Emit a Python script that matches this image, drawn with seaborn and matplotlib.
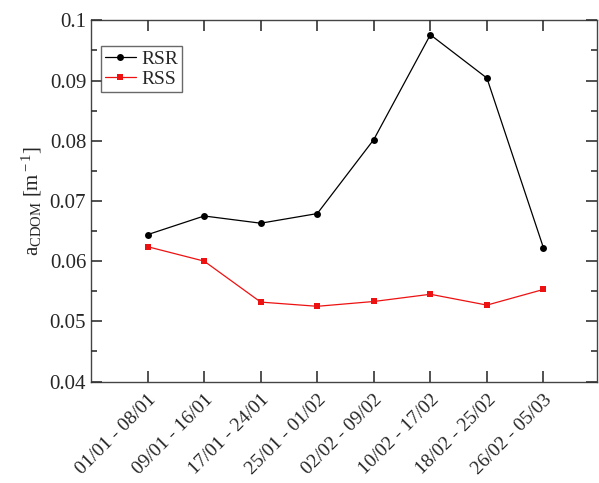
import pandas as pd
import numpy as np
import matplotlib.pyplot as plt
import seaborn as sns
from matplotlib.ticker import MultipleLocator

# 주간 구간 (x축 범주)
periods = ['01/01 - 08/01', '09/01 - 16/01', '17/01 - 24/01', '25/01 - 01/02',
           '02/02 - 09/02', '10/02 - 17/02', '18/02 - 25/02', '26/02 - 05/03']
rsr = [0.0644, 0.0675, 0.0663, 0.0679, 0.0802, 0.0976, 0.0904, 0.0622]
rss = [0.0624, 0.0600, 0.0532, 0.0525, 0.0533, 0.0545, 0.0527, 0.0553]
series_names = ['RSR', 'RSS']
series_colors = ['black', '#ee1111']
y_ticks = [0.04, 0.05, 0.06, 0.07, 0.08, 0.09, 0.1]
y_ticklabels = ['0.04', '0.05', '0.06', '0.07', '0.08', '0.09', '0.1']

df = pd.DataFrame({
    'pos': list(range(len(periods))) * 2,
    'val': rsr + rss,
    'site': ['RSR'] * len(rsr) + ['RSS'] * len(rss),
})

sns.set_style('ticks')
plt.rcParams['font.family'] = ['Liberation Serif', 'DejaVu Serif']
plt.rcParams['mathtext.fontset'] = 'custom'
plt.rcParams['mathtext.rm'] = 'Liberation Serif'
plt.rcParams['mathtext.it'] = 'Liberation Serif:italic'
plt.rcParams['axes.axisbelow'] = False

fig, ax = plt.subplots(figsize=(5.99, 4.83), dpi=100)
sns.lineplot(data=df, x='pos', y='val', hue='site', style='site',
             hue_order=series_names, style_order=series_names,
             palette=series_colors, markers=['o', 's'], dashes=False,
             markersize=5, linewidth=0.9, ax=ax)
for ln in ax.lines:
    ln.set_markeredgewidth(0)

ax.set_xlim(-1, 7.95)
ax.set_ylim(0.04, 0.1)
ax.set_xticks(range(len(periods)))
ax.set_xticklabels(periods, rotation=45, ha='right', rotation_mode='anchor', fontsize=14)
ax.set_yticks(y_ticks)
ax.set_yticklabels(y_ticklabels, fontsize=15)
ax.yaxis.set_minor_locator(MultipleLocator(0.005))
for s in ax.spines.values():
    s.set_color('#444444')
    s.set_linewidth(1.0)

ax.set_xlabel('')
ax.set_ylabel(r'a$_{\rm CDOM}$ [m$^{\rm -1}$]', fontsize=15, labelpad=4)

leg = ax.legend(loc='upper left', bbox_to_anchor=(0.0, 0.955), fontsize=14, frameon=True,
                fancybox=False, edgecolor='#444444', handlelength=1.6, handletextpad=0.3,
                borderpad=0.2, labelspacing=0.15, title=None)
leg.get_frame().set_linewidth(1.0)
for ln in leg.get_lines():
    ln.set_markeredgewidth(0)

# 눈금: 안쪽 방향, 네 면 모두
ax.tick_params(axis='both', which='both', direction='in', bottom=True, left=True,
               top=True, right=True, color='#333333', width=1.2)
ax.tick_params(which='major', length=8)
ax.tick_params(which='minor', length=4)
ax.tick_params(axis='x', which='minor', bottom=False, top=False)
ax.tick_params(axis='x', pad=7)
ax.xaxis.set_zorder(5)
ax.yaxis.set_zorder(5)

fig.subplots_adjust(left=0.152, right=0.997, top=0.958, bottom=0.21)
fig.savefig('out.png', dpi=100)
